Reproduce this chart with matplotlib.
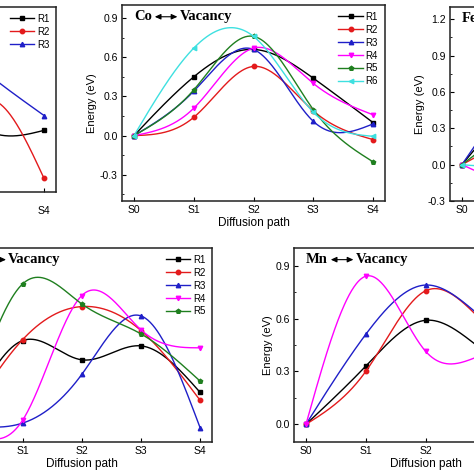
import numpy as np
import matplotlib.pyplot as plt
from matplotlib.ticker import MultipleLocator

plt.rcParams['font.family'] = ['Liberation Sans', 'DejaVu Sans']

steps = ['S0', 'S1', 'S2', 'S3', 'S4']
labels = ['R1', 'R2', 'R3', 'R4', 'R5', 'R6']
colors = ['#000000', '#e31a1c', '#1f1fc8', '#ff00ff', '#1f7f1f', '#3ee0e0']
markers = ['s', 'o', '^', 'v', 'p', '<']

# energies (eV) at S0..S4, one list per route
ni_vals = [
    [0.0, 0.30, 0.40, 0.01, 0.0],
    [0.0, 0.15, -0.35, 0.24, -0.39],
    [0.0, 0.32, 0.72, 0.48, 0.12],
]
co_vals = [
    [0.0, 0.45, 0.66, 0.44, 0.10],
    [0.0, 0.14, 0.53, 0.19, -0.03],
    [0.0, 0.34, 0.66, 0.11, 0.09],
    [0.0, 0.21, 0.67, 0.40, 0.16],
    [0.0, 0.35, 0.76, 0.20, -0.20],
    [0.0, 0.67, 0.76, 0.18, -0.005],
]
fe_vals = [
    [0.0, 0.60, 1.00, 0.50, 0.10],
    [0.0, 0.35, 0.80, 0.40, 0.00],
    [0.0, 0.70, 1.05, 0.45, 0.05],
    [0.0, -0.05, 0.50, 0.60, 0.20],
    [0.0, 0.45, 0.90, 0.30, -0.10],
    [0.0, 0.20, 0.95, 0.35, 0.05],
]
cr_vals = [
    [0.0, 0.475, 0.366, 0.445, 0.181],
    [0.0, 0.48, 0.668, 0.532, 0.136],
    [0.0, 0.007, 0.283, 0.615, -0.02],
    [0.0, 0.023, 0.73, 0.536, 0.434],
    [0.0, 0.796, 0.683, 0.513, 0.245],
]
mn_vals = [
    [0.0, 0.33, 0.59, 0.41, 0.20],
    [0.0, 0.30, 0.757, 0.57, 0.30],
    [0.0, 0.51, 0.79, 0.59, 0.35],
    [0.0, 0.84, 0.415, 0.40, 0.45],
]

W = H = 474


def natural_spline(y, n=300):
    """Natural cubic spline through equally spaced points."""
    y = np.asarray(y, float)
    k = len(y)
    A = np.zeros((k, k))
    rhs = np.zeros(k)
    A[0, 0] = A[-1, -1] = 1
    for i in range(1, k - 1):
        A[i, i - 1:i + 2] = [1, 4, 1]
        rhs[i] = 6 * (y[i + 1] - 2 * y[i] + y[i - 1])
    M = np.linalg.solve(A, rhs)
    xs = np.linspace(0, k - 1, n)
    i = np.minimum(xs.astype(int), k - 2)
    t = xs - i
    ys = ((1 - t) * y[i] + t * y[i + 1]
          + ((1 - t) ** 3 - (1 - t)) * M[i] / 6 + (t ** 3 - t) * M[i + 1] / 6)
    return xs, ys


def panel(fig, box, vals, ylim, elem, xpad=3):
    l, t, r, b = box
    ax = fig.add_axes([l / W, 1 - b / H, (r - l) / W, (b - t) / H])
    x = np.arange(len(steps))
    for v, lab, c, m in zip(vals, labels, colors, markers):
        xs, ys = natural_spline(v)
        ax.plot(xs, ys, color=c, lw=1.0)
        ax.plot(x, v, ls='none', marker=m, ms=3.2, color=c)
        ax.plot([], [], color=c, lw=1.0, marker=m, ms=3.2, label=lab)
    ax.set_xlim(-0.2, 4.2)
    ax.set_ylim(*ylim)
    ax.set_xticks(x)
    ax.set_xticklabels(steps)
    ax.yaxis.set_major_locator(MultipleLocator(0.3))
    ax.yaxis.set_minor_locator(MultipleLocator(0.15))
    ax.yaxis.set_major_formatter(lambda v, p: f'{v:.1f}')
    ax.tick_params(direction='in', length=3, width=0.8, labelsize=7.5, pad=3)
    ax.tick_params(axis='x', pad=xpad)
    ax.tick_params(which='minor', direction='in', length=1.5, width=0.6)
    for s in ax.spines.values():
        s.set_linewidth(1.1)
        s.set_color('#222222')
    ax.set_xlabel('Diffusion path', fontsize=8.5, labelpad=1)
    ax.set_ylabel('Energy (eV)', fontsize=8, labelpad=2)
    ax.legend(loc='upper right', frameon=False, fontsize=7, handlelength=2.5,
              labelspacing=0.3, handletextpad=0.3, borderaxespad=0.3)

    tfont = dict(family='Liberation Serif', weight='bold', size=10.5)
    t1 = ax.text(0.045, 0.94, elem, transform=ax.transAxes, va='center',
                 ha='left', **tfont)
    ax.annotate('', xy=(1, 0.5), xycoords=t1, xytext=(18.5, 0),
                textcoords='offset points',
                arrowprops=dict(arrowstyle='<|-|>,head_length=0.35,head_width=0.16',
                                lw=0.8, color='black', shrinkA=0, shrinkB=2.2))
    ax.annotate('Vacancy', xy=(1, 0.5), xycoords=t1, xytext=(20, 0),
                textcoords='offset points', va='center', ha='left', **tfont)
    return ax


fig = plt.figure(figsize=(W / 100, H / 100), dpi=100)
panel(fig, (-207, 7, 56, 192), ni_vals, (-0.5, 1.0), 'Ni', xpad=10)
panel(fig, (122, 5, 385, 201), co_vals, (-0.5, 1.0), 'Co')
panel(fig, (450, 7, 713, 201), fe_vals, (-0.3, 1.3), 'Fe')
panel(fig, (-48.5, 248, 212, 442), cr_vals, (-0.1, 1.0), 'Cr')
panel(fig, (294, 248, 557, 442), mn_vals, (-0.1, 1.0), 'Mn')

fig.savefig('out.png', dpi=100)
